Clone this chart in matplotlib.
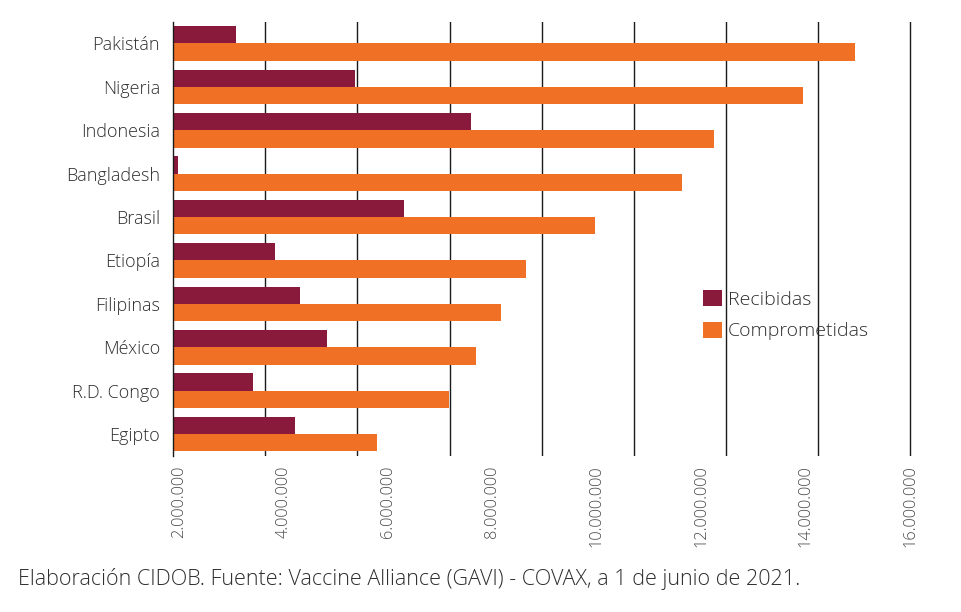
import matplotlib
matplotlib.use("Agg")
import matplotlib.pyplot as plt
import numpy as np

# ---- data ----
countries = ["Pakistán", "Nigeria", "Indonesia", "Bangladesh", "Brasil",
             "Etiopía", "Filipinas", "México", "R.D. Congo", "Egipto"]
recibidas = [1.36e6, 3.95e6, 6.46e6, 0.11e6, 5.01e6,
             2.21e6, 2.75e6, 3.34e6, 1.73e6, 2.64e6]
comprometidas = [14.80e6, 13.67e6, 11.74e6, 11.04e6, 9.16e6,
                 7.66e6, 7.12e6, 6.57e6, 5.99e6, 4.42e6]
tick_labels = ["2.000.000", "4.000.000", "6.000.000", "8.000.000",
               "10.000.000", "12.000.000", "14.000.000", "16.000.000"]
grid_values = [0, 2e6, 4e6, 6e6, 8e6, 10e6, 12e6, 14e6, 16e6]
series_names = ["Recibidas", "Comprometidas"]
source = "Elaboración CIDOB. Fuente: Vaccine Alliance (GAVI) - COVAX, a 1 de junio de 2021."

C_REC = "#8A1A3C"
C_COM = "#F07126"
FONT = "Open Sans"
TXT = "#2e2e2e"

W, H = 961, 612
fig = plt.figure(figsize=(W / 100, H / 100), dpi=100)
fig.patch.set_facecolor("white")

x0, x1 = 173.3, 912.3
ytop, ybot = 22, 456
ax = fig.add_axes([x0 / W, 1 - ybot / H, (x1 - x0) / W, (ybot - ytop) / H])

idx = np.arange(len(countries))
ax.barh(idx - 0.2, recibidas, height=0.4, color=C_REC, label=series_names[0], zorder=3)
ax.barh(idx + 0.2, comprometidas, height=0.4, color=C_COM, label=series_names[1], zorder=3)

ax.set_xlim(0, 16.05e6)
ax.set_ylim(9.505, -0.495)

# gridlines
for g in grid_values[1:]:
    ax.axvline(g, color="#1a1a1a", lw=1.0, zorder=1)

for s in ["top", "right", "bottom"]:
    ax.spines[s].set_visible(False)
ax.spines["left"].set_color("#1a1a1a")
ax.spines["left"].set_linewidth(1.0)
ax.spines["left"].set_zorder(4)

ax.set_yticks(idx)
ax.set_yticklabels(countries, fontsize=13, color=TXT, family=FONT, fontweight="light")
ax.tick_params(axis="y", length=0, pad=9.5)

tick_pos = np.linspace(0.13e6, 16e6, len(tick_labels))
ax.set_xticks(tick_pos)
ax.set_xticklabels(tick_labels, rotation=90, fontsize=11.8, color="#4a4a4a",
                   family=FONT, fontweight="light", va="top", ha="center")
ax.tick_params(axis="x", length=0, pad=7)

leg = fig.legend(loc="upper left", bbox_to_anchor=(695 / W, 1 - 282 / H),
                 frameon=False, handlelength=0.97, handleheight=0.92,
                 handletextpad=0.33, labelspacing=0.66, borderaxespad=0,
                 prop={"family": FONT, "size": 14, "weight": "light"})
for t in leg.get_texts():
    t.set_color(TXT)

fig.text(18 / W, 1 - 585 / H, source, fontsize=15.5, color=TXT,
         family=FONT, fontweight="light", va="baseline", ha="left")

fig.savefig("out.png", dpi=100, facecolor="white")
